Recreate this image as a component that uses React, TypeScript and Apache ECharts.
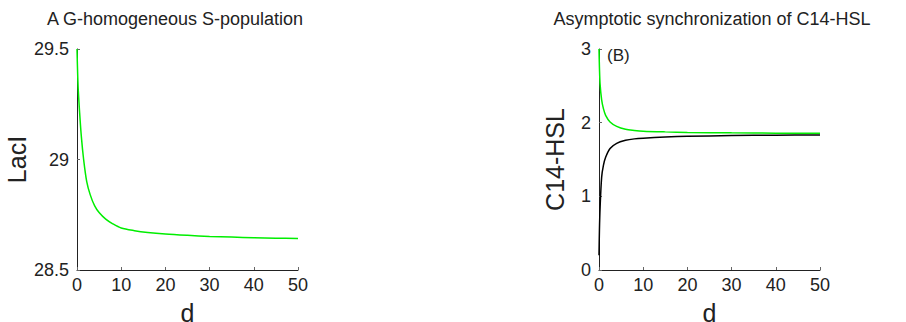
import React, { useEffect, useRef } from "react";
import * as echarts from "echarts";

const leftD = [0, 0.25, 0.6, 1, 1.5, 2.2, 3, 4, 5, 6.5, 8, 10, 13, 16, 20, 25, 30, 35, 40, 45, 50];
const laciValues = [29.5, 29.33, 29.21, 29.1, 29.0, 28.9, 28.84, 28.79, 28.76, 28.73, 28.71, 28.69, 28.678, 28.67, 28.663, 28.657, 28.652, 28.649, 28.646, 28.644, 28.642];

const rightD = [0, 0.1, 0.25, 0.6, 1, 1.5, 2.5, 4, 6, 8, 10, 15, 20, 30, 40, 50];
const c14Green = [3.0, 2.75, 2.52, 2.31, 2.19, 2.1, 2.01, 1.95, 1.91, 1.895, 1.885, 1.875, 1.868, 1.862, 1.858, 1.855];
const c14Black = [0.2, 0.55, 0.85, 1.26, 1.42, 1.53, 1.65, 1.72, 1.76, 1.78, 1.79, 1.805, 1.815, 1.825, 1.83, 1.833];

const xTicks = [0, 10, 20, 30, 40, 50];
const leftTitle = "A G-homogeneous S-population";
const rightTitle = "Asymptotic synchronization of C14-HSL";

const FONT = "'Liberation Sans', Arial, sans-serif";

function pairs(xs: number[], ys: number[]) {
  return xs.map((x, i) => [x, ys[i]]);
}

export default function App() {
  const ref = useRef<HTMLDivElement>(null);
  useEffect(() => {
    if (!ref.current) return;
    const chart = echarts.init(ref.current, undefined, { renderer: "svg" });
    const axisCommon = {
      axisLine: { show: true, lineStyle: { color: "#222", width: 1 } },
      axisTick: { show: true, inside: true, length: 3, lineStyle: { color: "#666" } },
      splitLine: { show: false },
      axisLabel: { color: "#222", fontSize: 18, fontFamily: FONT },
      nameTextStyle: { color: "#222", fontSize: 25, fontFamily: FONT },
    };
    const xAxisFor = (gridIndex: number) => ({
      ...axisCommon,
      type: "value",
      gridIndex,
      min: 0,
      max: 50,
      interval: 10,
      name: "d",
      nameLocation: "middle",
      nameGap: 30,
      axisLabel: { ...axisCommon.axisLabel, margin: 6, formatter: (v: number) => (xTicks.includes(v) ? String(v) : "") },
    });
    const titleStyle = { fontSize: 18, fontWeight: "normal", color: "#222", fontFamily: FONT };
    chart.setOption({
      animation: false,
      backgroundColor: "#fff",
      title: [
        { text: leftTitle, left: 175, top: 10, textAlign: "center", padding: 0, textStyle: titleStyle },
        { text: rightTitle, left: 712, top: 10, textAlign: "center", padding: 0, textStyle: titleStyle },
      ],
      grid: [
        { left: 77, right: 608, top: 49, bottom: 52, outerBoundsMode: "none", containLabel: false },
        { left: 599, right: 86, top: 49, bottom: 52, outerBoundsMode: "none", containLabel: false },
      ],
      xAxis: [xAxisFor(0), xAxisFor(1)],
      yAxis: [
        {
          ...axisCommon,
          type: "value",
          gridIndex: 0,
          min: 28.5,
          max: 29.5,
          interval: 0.5,
          name: "LacI",
          nameLocation: "middle",
          nameGap: 48,
          axisLabel: { ...axisCommon.axisLabel, margin: 8, formatter: (v: number) => (v === 29 ? "29" : v.toFixed(1)) },
        },
        {
          ...axisCommon,
          type: "value",
          gridIndex: 1,
          min: 0,
          max: 3,
          interval: 1,
          name: "C14-HSL",
          nameLocation: "middle",
          nameGap: 32,
          axisLabel: { ...axisCommon.axisLabel, margin: 8 },
        },
      ],
      graphic: [
        { type: "text", left: 607, top: 47, style: { text: "(B)", fontSize: 17, fill: "#222", fontFamily: FONT } },
      ],
      series: [
        {
          type: "line",
          xAxisIndex: 0,
          yAxisIndex: 0,
          data: pairs(leftD, laciValues),
          smooth: 0.3,
          showSymbol: false,
          lineStyle: { color: "#00ee00", width: 1.5 },
        },
        {
          type: "line",
          xAxisIndex: 1,
          yAxisIndex: 1,
          data: pairs(rightD, c14Black),
          smooth: 0.3,
          showSymbol: false,
          lineStyle: { color: "#000", width: 1.5 },
        },
        {
          type: "line",
          xAxisIndex: 1,
          yAxisIndex: 1,
          data: pairs(rightD, c14Green),
          smooth: 0.3,
          showSymbol: false,
          lineStyle: { color: "#00ee00", width: 1.5 },
        },
      ],
    });
    return () => chart.dispose();
  }, []);
  return <div ref={ref} style={{ width: 906, height: 322, position: "absolute", left: 0, top: 0 }} />;
}
